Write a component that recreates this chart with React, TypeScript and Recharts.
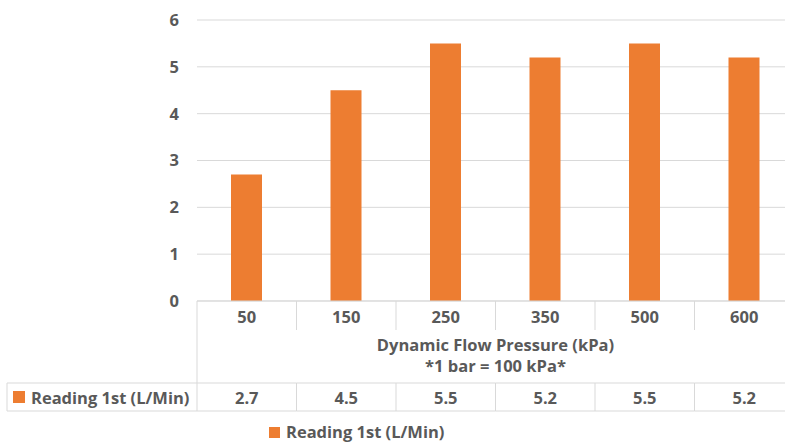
import React from "react";
import { BarChart, Bar, XAxis, YAxis, CartesianGrid } from "recharts";

const pressures = ["50", "150", "250", "350", "500", "600"];
const reading1st = [2.7, 4.5, 5.5, 5.2, 5.5, 5.2];
const yTicks = [0, 1, 2, 3, 4, 5, 6];
const seriesName = "Reading 1st (L/Min)";
const axisTitle = "Dynamic Flow Pressure (kPa)";
const axisNote = "*1 bar = 100 kPa*";

const data = pressures.map((p, i) => ({ pressure: p, reading: reading1st[i] }));

// layout
const CHART_W = 794;
const CHART_H = 442;
const Y_AXIS_W = 197;
const MARGIN_TOP = 20;
const X_AXIS_H = 141;
const BAND = (CHART_W - Y_AXIS_W) / pressures.length;
const TABLE_LEFT = 7;

const ORANGE = "#ED7D31";
const GRID = "#d9d9d9";
const TEXT = "#595959";
const FONT = "'Open Sans', 'Liberation Sans', sans-serif";
const FS = 16.5;

// tick der x-achse zeichnet zugleich die datentabelle darunter
function TableTick(props: any) {
  const { x, y, payload, index } = props;
  const half = BAND / 2;
  const rowTop = y + 82;
  const rowBottom = y + 110;
  return (
    <g>
      <text
        x={x}
        y={y + 15}
        textAnchor="middle"
        dominantBaseline="central"
        fill={TEXT}
        fontSize={FS}
        fontWeight={700}
      >
        {payload.value}
      </text>
      <line x1={x + half} y1={y} x2={x + half} y2={y + 29} stroke={GRID} />
      <line x1={x + half} y1={rowTop} x2={x + half} y2={rowBottom} stroke={GRID} />
      <line x1={x - half} y1={rowTop} x2={x + half} y2={rowTop} stroke={GRID} />
      <line x1={x - half} y1={rowBottom} x2={x + half} y2={rowBottom} stroke={GRID} />
      <text
        x={x}
        y={rowTop + 14}
        textAnchor="middle"
        dominantBaseline="central"
        fill={TEXT}
        fontSize={FS}
        fontWeight={700}
      >
        {reading1st[index]}
      </text>
      {index === 0 && (
        <g>
          <line x1={x - half} y1={y} x2={x - half} y2={rowBottom} stroke={GRID} />
          <line x1={TABLE_LEFT} y1={rowTop} x2={x - half} y2={rowTop} stroke={GRID} />
          <line x1={TABLE_LEFT} y1={rowBottom} x2={x - half} y2={rowBottom} stroke={GRID} />
          <line x1={TABLE_LEFT} y1={rowTop} x2={TABLE_LEFT} y2={rowBottom} stroke={GRID} />
          <rect x={13} y={rowTop + 8} width={12} height={12} fill={ORANGE} />
          <text
            x={31}
            y={rowTop + 14}
            dominantBaseline="central"
            fill={TEXT}
            fontSize={FS}
            fontWeight={700}
          >
            {seriesName}
          </text>
        </g>
      )}
    </g>
  );
}

// achsentitel, hinweis und legende unter der tabelle
function AxisTitle(props: any) {
  const { viewBox } = props;
  const cx = viewBox.x + viewBox.width / 2;
  const top = viewBox.y;
  return (
    <g fill={TEXT} fontSize={FS} fontWeight={700}>
      <text x={cx} y={top + 43} textAnchor="middle" dominantBaseline="central">
        {axisTitle}
      </text>
      <text x={cx} y={top + 64} textAnchor="middle" dominantBaseline="central">
        {axisNote}
      </text>
      <rect x={269} y={top + 126} width={11} height={11} fill={ORANGE} />
      <text x={286} y={top + 130} dominantBaseline="central">
        {seriesName}
      </text>
    </g>
  );
}

export default function App() {
  return (
    <div
      style={{
        position: "absolute",
        left: 0,
        top: 0,
        width: 785,
        height: 442,
        overflow: "hidden",
        background: "#fff",
        fontFamily: FONT,
      }}
    >
      <BarChart
        width={CHART_W}
        height={CHART_H}
        data={data}
        margin={{ top: MARGIN_TOP, right: 0, left: 0, bottom: 0 }}
      >
        <CartesianGrid vertical={false} stroke={GRID} />
        <XAxis
          dataKey="pressure"
          height={X_AXIS_H}
          interval={0}
          tickLine={false}
          tickSize={0}
          tickMargin={0}
          axisLine={{ stroke: GRID }}
          tick={<TableTick />}
          label={<AxisTitle />}
        />
        <YAxis
          domain={[0, 6]}
          ticks={yTicks}
          interval={0}
          width={Y_AXIS_W}
          tickLine={false}
          axisLine={false}
          tickSize={6}
          tickMargin={12}
          tick={{ fill: TEXT, fontSize: FS, fontWeight: 700 }}
        />
        <Bar
          dataKey="reading"
          name={seriesName}
          fill={ORANGE}
          barSize={31}
          isAnimationActive={false}
        />
      </BarChart>
    </div>
  );
}
